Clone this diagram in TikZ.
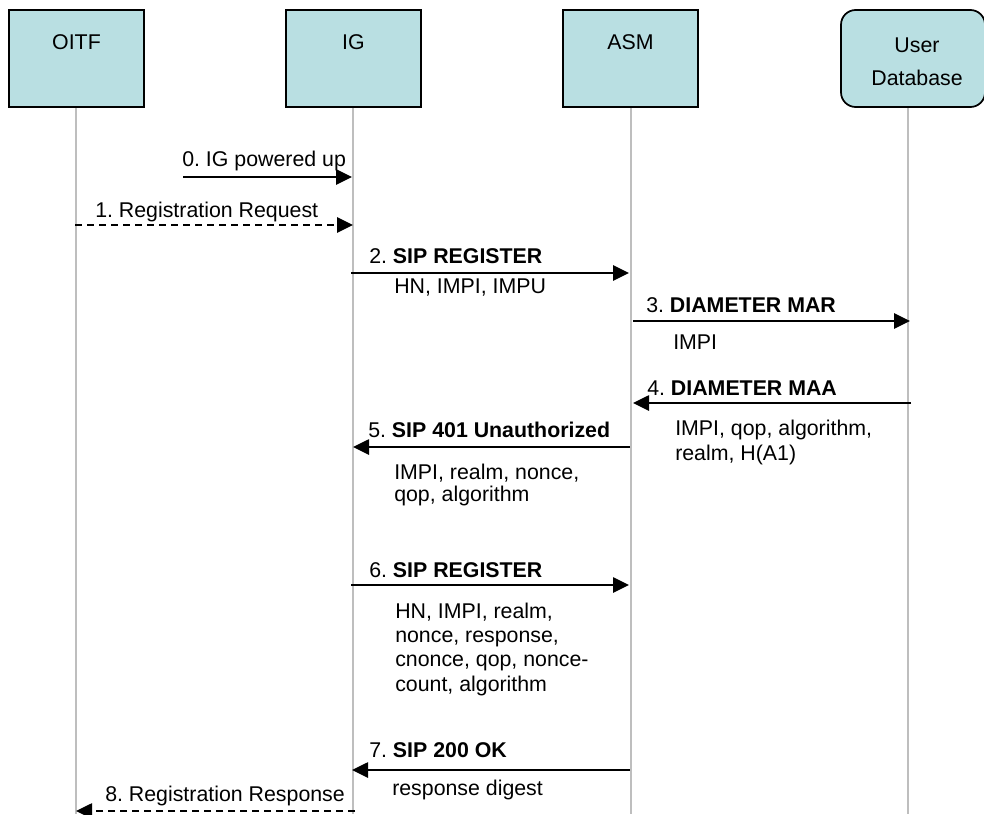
\documentclass[tikz,border=0pt]{standalone}
\usepackage{fontspec}
\setmainfont{Liberation Sans}
\usetikzlibrary{arrows.meta}
\definecolor{boxfill}{HTML}{B9DFE2}
\definecolor{lifeline}{HTML}{BEBEBE}
\frenchspacing
\tikzset{
  x=0.75pt,y=-0.75pt,
  actor/.style={draw=black,line width=1.3pt,fill=boxfill,minimum width=101.25pt,minimum height=72.75pt,inner sep=0pt},
  actorlabel/.style={font=\fontsize{16}{18}\selectfont,align=center,inner sep=0pt,anchor=base},
  life/.style={draw=lifeline,line width=1.2pt},
  msg/.style={draw=black,line width=1.2pt,-{Triangle[length=12pt,width=11.5pt]}},
  dmsg/.style={msg,dash pattern=on 5.5pt off 3.5pt},
  txt/.style={font=\fontsize{16}{18}\selectfont,anchor=base west,inner sep=0pt}
}
\begin{document}
\begin{tikzpicture}
\useasboundingbox (0,0) rectangle (984,814);
\coordinate (e1) at (76,814);
\coordinate (e2) at (353,814);
\coordinate (e3) at (631,814);
\coordinate (e4) at (908,814);
\draw[life] (76,107) -- (e1);
\draw[life] (353,107) -- (e2);
\draw[life] (631,107) -- (e3);
\draw[life] (908,107) -- (e4);
\node[actor] (oitf) at (76.5,58.5) {};
\node[actor] (ig) at (353.5,58.5) {};
\node[actor] (asm) at (630.5,58.5) {};
\node[actor,rounded corners=11pt,minimum width=108pt] (udb) at (913,58.5) {};
\node[actorlabel] (toitf) at (76.5,49) {OITF};
\node[actorlabel] (tig) at (353.5,49) {IG};
\node[actorlabel] (tasm) at (630.5,49) {ASM};
\node[actorlabel] (tuser) at (917,52) {User};
\node[actorlabel] (tdb) at (917,85) {Database};
% arrows
\coordinate (a0s) at (183,177); \coordinate (a0e) at (352,177);
\draw[msg] (a0s) -- (a0e);
\coordinate (a1s) at (75,225); \coordinate (a1e) at (353,225);
\draw[dmsg] (a1s) -- (a1e);
\coordinate (a2s) at (351,273); \coordinate (a2e) at (629,273);
\draw[msg] (a2s) -- (a2e);
\coordinate (a3s) at (633,321); \coordinate (a3e) at (910,321);
\draw[msg] (a3s) -- (a3e);
\coordinate (a4s) at (911,403); \coordinate (a4e) at (633,403);
\draw[msg] (a4s) -- (a4e);
\coordinate (a5s) at (630,447); \coordinate (a5e) at (353,447);
\draw[msg] (a5s) -- (a5e);
\coordinate (a6s) at (351,585); \coordinate (a6e) at (629,585);
\draw[msg] (a6s) -- (a6e);
\coordinate (a7s) at (630,770); \coordinate (a7e) at (352,770);
\draw[msg] (a7s) -- (a7e);
\coordinate (a8s) at (355,811); \coordinate (a8e) at (76,811);
\draw[dmsg] (a8s) -- (a8e);
% labels
\node[txt] (l0) at (182,166) {0. IG powered up};
\node[txt] (l1) at (95,217) {1. Registration Request};
\node[txt] (l2) at (369,263) {2. \textbf{SIP REGISTER}};
\node[txt] (l2b) at (394,293) {HN, IMPI, IMPU};
\node[txt] (l3) at (646,312) {3. \textbf{DIAMETER MAR}};
\node[txt] (l3b) at (673,349) {IMPI};
\node[txt] (l4) at (647,395) {4. \textbf{DIAMETER MAA}};
\node[txt] (l4b) at (675,435) {IMPI, qop, algorithm,};
\node[txt] (l4c) at (675,460) {realm, H(A1)};
\node[txt] (l5) at (368,437) {5. \textbf{SIP 401 Unauthorized}};
\node[txt] (l5b) at (394,479) {IMPI, realm, nonce,};
\node[txt] (l5c) at (394,501) {qop, algorithm};
\node[txt] (l6) at (369,577) {6. \textbf{SIP REGISTER}};
\node[txt] (l6b) at (395,618) {HN, IMPI, realm,};
\node[txt] (l6c) at (395,642) {nonce, response,};
\node[txt] (l6d) at (395,666) {cnonce, qop, nonce-};
\node[txt] (l6e) at (395,691) {count, algorithm};
\node[txt] (l7) at (369,757) {7. \textbf{SIP 200 OK}};
\node[txt] (l7b) at (392,795) {response digest};
\node[txt] (l8) at (105,801) {8. Registration Response};
\end{tikzpicture}
\end{document}
